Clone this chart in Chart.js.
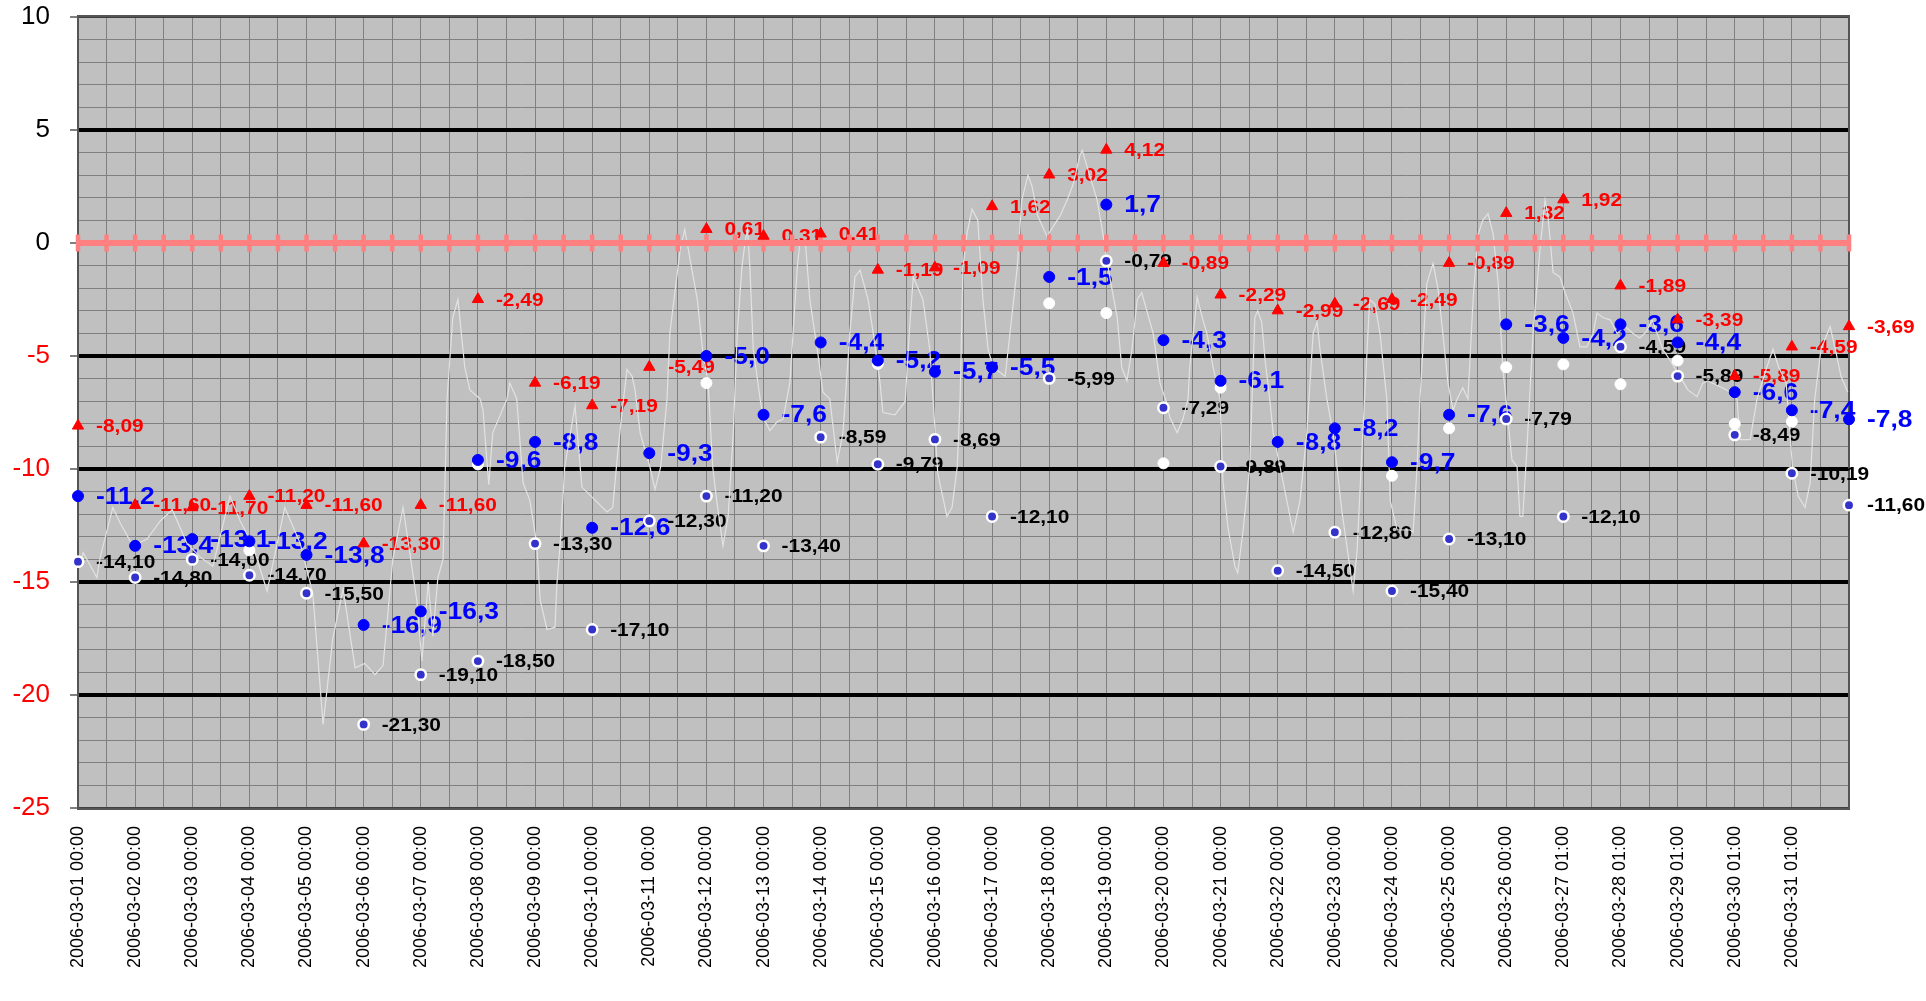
<!DOCTYPE html>
<html><head><meta charset="utf-8">
<script src="https://cdn.jsdelivr.net/npm/chart.js@4.4.1/dist/chart.umd.min.js"></script>
<style>html,body{margin:0;padding:0;background:#fff;overflow:hidden}#wrap{width:1926px;height:1001px}</style>
</head><body><div id="wrap"><canvas id="c" width="1926" height="1001"></canvas></div>
<script>
const tickLabels = [
"2006-03-01 00:00","2006-03-02 00:00","2006-03-03 00:00","2006-03-04 00:00","2006-03-05 00:00",
"2006-03-06 00:00","2006-03-07 00:00","2006-03-08 00:00","2006-03-09 00:00","2006-03-10 00:00",
"2006-03-11 00:00","2006-03-12 00:00","2006-03-13 00:00","2006-03-14 00:00","2006-03-15 00:00",
"2006-03-16 00:00","2006-03-17 00:00","2006-03-18 00:00","2006-03-19 00:00","2006-03-20 00:00",
"2006-03-21 00:00","2006-03-22 00:00","2006-03-23 00:00","2006-03-24 00:00","2006-03-25 00:00",
"2006-03-26 00:00","2006-03-27 01:00","2006-03-28 01:00","2006-03-29 01:00","2006-03-30 01:00",
"2006-03-31 01:00"];
const yTickValues = [10,5,0,-5,-10,-15,-20,-25];
// day offsets of the daily markers (days since 2006-03-01 00:00)
const dayOffsets = [0,1,2,3,4,5,6,7,8,9,10,11,12,13,14,15,16,17,18,19,20,21,22,23,24,25,26,27,28,29,30,31];
const maxTemps = [-8.09,-11.60,-11.70,-11.20,-11.60,-13.30,-11.60,-2.49,-6.19,-7.19,-5.49,0.61,0.31,0.41,-1.19,-1.09,1.62,3.02,4.12,-0.89,-2.29,-2.99,-2.69,-2.49,-0.89,1.32,1.92,-1.89,-3.39,-5.89,-4.59,-3.69];
const meanTemps = [-11.2,-13.4,-13.1,-13.2,-13.8,-16.9,-16.3,-9.6,-8.8,-12.6,-9.3,-5.0,-7.6,-4.4,-5.2,-5.7,-5.5,-1.5,1.7,-4.3,-6.1,-8.8,-8.2,-9.7,-7.6,-3.6,-4.2,-3.6,-4.4,-6.6,-7.4,-7.8];
const minTemps = [-14.10,-14.80,-14.00,-14.70,-15.50,-21.30,-19.10,-18.50,-13.30,-17.10,-12.30,-11.20,-13.40,-8.59,-9.79,-8.69,-12.10,-5.99,-0.79,-7.29,-9.89,-14.50,-12.80,-15.40,-13.10,-7.79,-12.10,-4.59,-5.89,-8.49,-10.19,-11.60];
const otherTemps = [null,null,null,-13.6,null,null,null,-9.8,null,null,null,-6.2,null,null,-5.35,null,null,-2.67,-3.1,-9.75,-6.4,null,null,-10.3,-8.2,-5.5,-5.37,-6.25,-5.2,-8.0,-7.9,null];
const zeroTimes = [0,0.5,1,1.5,2,2.5,3,3.5,4,4.5,5,5.5,6,6.5,7,7.5,8,8.5,9,9.5,10,10.5,11,11.5,12,12.5,13,13.5,14,14.5,15,15.5,16,16.5,17,17.5,18,18.5,19,19.5,20,20.5,21,21.5,22,22.5,23,23.5,24,24.5,25,25.5,26,26.5,27,27.5,28,28.5,29,29.5,30,30.5,31];
const zeroValues = [0,0,0,0,0,0,0,0,0,0,0,0,0,0,0,0,0,0,0,0,0,0,0,0,0,0,0,0,0,0,0,0,0,0,0,0,0,0,0,0,0,0,0,0,0,0,0,0,0,0,0,0,0,0,0,0,0,0,0,0,0,0,0];
const traceTimes = [0.035,0.09,0.33,0.39,0.61,0.74,0.96,1.21,1.44,1.65,1.91,2.14,2.36,2.66,2.84,3.06,3.31,3.62,3.89,4.11,4.29,4.46,4.64,4.85,5.02,5.20,5.34,5.51,5.69,5.93,6.02,6.13,6.21,6.30,6.39,6.46,6.56,6.65,6.77,6.86,7.04,7.09,7.19,7.26,7.51,7.56,7.68,7.79,7.91,8.03,8.09,8.21,8.35,8.38,8.44,8.52,8.70,8.82,9.26,9.36,9.45,9.54,9.61,9.70,9.75,9.84,10.01,10.10,10.20,10.31,10.36,10.54,10.62,10.84,10.94,11.03,11.11,11.18,11.29,11.38,11.47,11.54,11.62,11.68,11.72,11.76,11.82,11.94,11.99,12.11,12.24,12.34,12.46,12.59,12.64,12.73,12.81,12.94,13.04,13.16,13.29,13.39,13.51,13.60,13.69,13.83,13.92,14.04,14.09,14.30,14.48,14.55,14.62,14.79,14.91,15.05,15.21,15.30,15.39,15.44,15.49,15.56,15.65,15.75,15.84,15.93,16.02,16.23,16.44,16.52,16.63,16.70,16.80,16.96,17.19,17.33,17.42,17.54,17.58,17.66,17.84,17.94,18.06,18.19,18.27,18.36,18.45,18.54,18.62,18.82,18.94,19.06,19.11,19.24,19.34,19.43,19.46,19.59,19.69,19.76,19.87,19.99,20.04,20.13,20.25,20.30,20.39,20.51,20.60,20.65,20.72,20.78,20.86,20.92,21.04,21.16,21.27,21.39,21.51,21.62,21.69,21.74,21.86,21.97,22.12,22.26,22.32,22.39,22.49,22.61,22.70,22.79,22.91,22.97,23.09,23.32,23.37,23.44,23.49,23.61,23.72,23.81,23.89,23.98,24.07,24.14,24.24,24.33,24.42,24.51,24.59,24.68,24.77,24.86,24.94,25.10,25.19,25.24,25.29,25.36,25.47,25.59,25.68,25.73,25.82,25.94,26.03,26.17,26.29,26.41,26.52,26.59,26.69,26.82,26.94,27.08,27.22,27.34,27.46,27.55,27.64,27.74,27.87,28.04,28.18,28.34,28.44,28.53,28.86,29.04,29.09,29.27,29.39,29.56,29.67,29.77,29.90,30.01,30.11,30.23,30.32,30.40,30.51,30.67,30.76,30.86,30.98];
const traceValues = [-14.2,-13.7,-14.8,-13.9,-11.7,-12.4,-13.4,-13.1,-12.3,-11.8,-13.3,-13.9,-14.3,-11.2,-12.3,-13.4,-15.4,-11.7,-13.3,-15.5,-21.3,-17.5,-15.3,-18.8,-18.6,-19.1,-18.7,-14.0,-11.7,-15.8,-18.5,-15.0,-17.4,-14.8,-14.0,-6.9,-3.3,-2.5,-5.5,-6.5,-6.9,-7.4,-10.7,-8.4,-6.9,-6.2,-6.9,-10.6,-11.4,-13.3,-15.8,-17.1,-17.0,-15.2,-13.3,-9.9,-7.2,-10.8,-11.9,-11.7,-9.2,-7.1,-5.6,-5.9,-6.5,-8.4,-9.9,-10.9,-9.9,-6.9,-4.0,-0.3,0.6,-2.5,-4.9,-6.2,-9.9,-11.4,-13.4,-12.1,-8.4,-4.0,-1.1,0.1,0.6,-1.0,-4.7,-6.9,-7.7,-8.3,-7.9,-7.8,-6.2,-1.1,0.1,0.1,-2.5,-4.7,-6.6,-6.9,-9.7,-8.4,-4.0,-1.5,-1.2,-2.5,-4.0,-6.2,-7.5,-7.6,-7.0,-4.0,-1.5,-2.5,-4.7,-10.2,-12.1,-11.7,-9.9,-7.0,-1.1,0.4,1.5,1.0,-2.5,-4.7,-5.5,-5.9,-1.1,1.9,3.0,2.5,1.2,0.3,1.2,2.0,2.6,3.9,4.1,3.4,1.9,0.4,-1.5,-3.3,-5.5,-6.1,-4.7,-2.5,-2.2,-4.0,-6.2,-7.1,-7.7,-8.4,-7.8,-6.9,-5.5,-2.4,-3.4,-4.0,-5.5,-6.9,-10.5,-12.6,-14.3,-14.6,-12.8,-9.9,-3.3,-3.0,-3.5,-5.2,-6.9,-8.4,-9.9,-11.4,-12.8,-11.4,-8.4,-4.0,-3.5,-4.7,-6.9,-8.4,-11.8,-14.3,-15.4,-13.6,-8.4,-2.5,-2.7,-4.0,-6.9,-11.4,-12.7,-12.7,-12.8,-9.9,-6.9,-1.8,-0.9,-2.1,-4.0,-6.2,-7.4,-6.9,-6.4,-6.9,-2.5,0.4,1.0,1.3,0.4,-1.8,-5.5,-9.6,-9.9,-12.1,-12.1,-9.2,-4.0,-0.3,1.9,1.2,-1.3,-1.5,-2.2,-3.1,-4.6,-4.6,-4.0,-3.1,-3.3,-3.4,-4.0,-3.7,-4.0,-4.2,-3.9,-3.4,-4.0,-4.7,-5.2,-5.9,-6.5,-6.8,-6.2,-6.1,-6.5,-6.9,-8.7,-8.7,-6.9,-5.5,-4.7,-5.5,-6.2,-9.9,-11.2,-11.7,-10.6,-6.9,-4.7,-3.7,-4.7,-5.9,-6.6];

const pts = (xs, ys) => xs.map((x, i) => ({x: x, y: ys[i]}));
const FONT = "'Liberation Sans', Arial, sans-serif";

const bgFramePlugin = {
  id: 'bgFrame',
  beforeDraw(chart) {
    const {ctx, chartArea: a} = chart;
    ctx.save();
    ctx.fillStyle = '#C0C0C0';
    ctx.fillRect(a.left, a.top, a.right - a.left, a.bottom - a.top);
    ctx.restore();
  },
  beforeDatasetsDraw(chart) {
    const {ctx, chartArea: a} = chart;
    ctx.save();
    ctx.strokeStyle = '#555555';
    ctx.lineWidth = 2;
    ctx.strokeRect(a.left, a.top - 1, a.right - a.left, a.bottom - a.top + 2);
    ctx.restore();
  }
};

const pointLabelPlugin = {
  id: 'pointLabels',
  beforeDatasetsDraw(chart) {
    const ctx = chart.ctx;
    chart.data.datasets.forEach((ds, i) => {
      const c = ds.labelCfg;
      if (!c) return;
      const meta = chart.getDatasetMeta(i);
      ctx.save();
      ctx.font = c.font;
      ctx.fillStyle = c.color;
      ctx.textBaseline = 'middle';
      ctx.textAlign = 'left';
      meta.data.forEach((el, j) => {
        const v = ds.data[j].y;
        if (v === null || v === undefined) return;
        const txt = v.toFixed(c.decimals).replace('.', ',');
        ctx.save();
        ctx.translate(el.x + c.dx, el.y + 1);
        ctx.scale(c.sx, 1);
        ctx.fillText(txt, 0, 0);
        ctx.restore();
      });
      ctx.restore();
    });
  }
};

new Chart(document.getElementById('c'), {
  type: 'line',
  data: {
    datasets: [
      { data: pts(dayOffsets, maxTemps), showLine: false, pointStyle: 'triangle', pointRadius: 6.5,
        pointBackgroundColor: '#FF0000', pointBorderColor: '#FF0000', pointBorderWidth: 1, clip: false,
        labelCfg: {font: 'bold 19px ' + FONT, color: '#FF0000', decimals: 2, dx: 18, sx: 1.1} },
      { data: pts(dayOffsets, meanTemps), showLine: false, pointStyle: 'circle', pointRadius: 5.5,
        pointBackgroundColor: '#0000FF', pointBorderColor: '#0000FF', pointBorderWidth: 1, clip: false,
        labelCfg: {font: 'bold 24px ' + FONT, color: '#0000FF', decimals: 1, dx: 18, sx: 1.1} },
      { data: pts(dayOffsets, minTemps), showLine: false, pointStyle: 'circle', pointRadius: 5.2,
        pointBackgroundColor: '#3333CC', pointBorderColor: '#FFFFFF', pointBorderWidth: 2.5, clip: false,
        labelCfg: {font: 'bold 19px ' + FONT, color: '#000000', decimals: 2, dx: 18, sx: 1.1} },
      { data: pts(dayOffsets, otherTemps), showLine: false, pointStyle: 'circle', pointRadius: 5.5,
        pointBackgroundColor: '#FFFFFF', pointBorderColor: '#FFFFFF', pointBorderWidth: 1, clip: false },
      { data: pts(zeroTimes, zeroValues), borderColor: '#FF8080', borderWidth: 6, pointStyle: 'line',
        pointRotation: 90, pointRadius: 8.5, pointBorderColor: '#FF8080', pointBorderWidth: 4.5, clip: false },
      { data: pts(traceTimes, traceValues), borderColor: '#E2E2E2', borderWidth: 1.2, pointRadius: 0, tension: 0 }
    ]
  },
  options: {
    responsive: false, animation: false,
    layout: {padding: {left: 0, right: 77, top: 17, bottom: 0}},
    plugins: {legend: {display: false}, tooltip: {enabled: false}},
    scales: {
      x: {
        type: 'linear', min: 0, max: 31,
        afterFit: s => { s.height = 193; },
        border: {display: true, color: '#404040', width: 2},
        grid: {color: '#808080', lineWidth: 1, drawTicks: false},
        ticks: {
          stepSize: 0.5, autoSkip: false, maxRotation: 90, minRotation: 90, padding: 18,
          color: '#000', font: {family: FONT, size: 18},
          callback: v => (Number.isInteger(v) && v < tickLabels.length) ? tickLabels[v] : ''
        }
      },
      y: {
        type: 'linear', min: -25, max: 10,
        afterFit: s => { s.width = 78; s.paddingTop = 0; s.paddingBottom = 0; },
        border: {display: true, color: '#404040', width: 2},
        grid: {
          color: c => { const v = c.tick.value; if (v === 10 || v === -25) return '#404040'; return yTickValues.includes(v) ? '#000000' : '#808080'; },
          lineWidth: c => { const v = c.tick.value; if (v === 10 || v === -25) return 2; return yTickValues.includes(v) ? 4 : 1; },
          tickColor: c => yTickValues.includes(c.tick.value) ? '#000000' : 'rgba(0,0,0,0)',
          tickWidth: 1, tickLength: 8
        },
        ticks: {
          stepSize: 1, autoSkip: false, padding: 20,
          color: c => c.tick.value < 0 ? '#FF0000' : '#000000',
          font: {family: FONT, size: 26},
          callback: v => yTickValues.includes(v) ? String(v) : ''
        }
      }
    }
  },
  plugins: [bgFramePlugin, pointLabelPlugin]
});
</script>
</body></html>
